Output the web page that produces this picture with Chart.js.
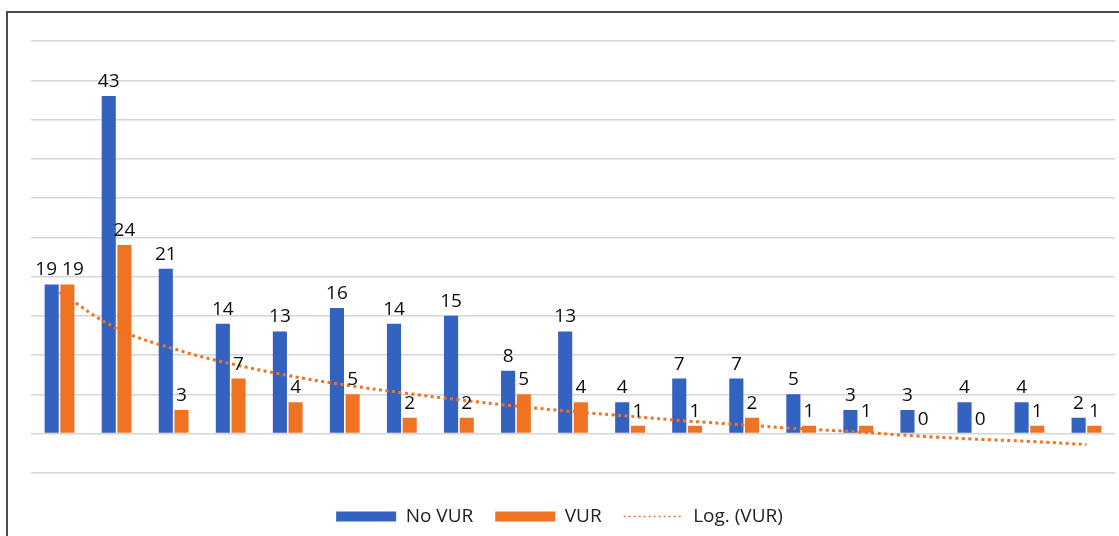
<!DOCTYPE html>
<html>
<head>
<meta charset="utf-8">
<script src="https://cdn.jsdelivr.net/npm/chart.js@4.4.1/dist/chart.umd.min.js"></script>
<style>
  html, body { margin: 0; padding: 0; background: #fff; }
  #wrap { position: relative; width: 1119px; height: 536px; overflow: hidden; }
  #frame {
    position: absolute; left: 6px; top: 11px;
    width: 1200px; height: 600px;
    border: 2px solid #4a4a4a; box-sizing: border-box;
  }
  #chart { position: absolute; left: 0; top: 0; }
</style>
</head>
<body>
<div id="wrap">
  <div id="frame"></div>
  <canvas id="chart" width="1119" height="536"></canvas>
</div>
<script>

// categories have no visible names in the picture
const categories = ["1","2","3","4","5","6","7","8","9","10","11","12","13","14","15","16","17","18","19"];

const noVur = [19, 43, 21, 14, 13, 16, 14, 15, 8, 13, 4, 7, 7, 5, 3, 3, 4, 4, 2];

const vur = [19, 24, 3, 7, 4, 5, 2, 2, 5, 4, 1, 1, 2, 1, 1, 0, 0, 1, 1];

// log trend line
const logVur = [18.0, 13.4, 10.8, 8.9, 7.4, 6.2, 5.2, 4.3, 3.5, 2.8, 2.2, 1.6, 1.1, 0.6, 0.2, -0.3, -0.7, -1.0, -1.4];

const blue = "#3462c0";
const orange = "#ef7322";


/* ===========================
   VALUE LABELS
=========================== */

const barLabels = {
    id: "barLabels",
    afterDatasetsDraw(chart){
        const c = chart.ctx;
        c.save();
        c.font = "19px 'Open Sans'";
        c.fillStyle = "#0d0d0d";
        c.textAlign = "center";
        c.textBaseline = "alphabetic";

        const a = chart.getDatasetMeta(0).data;
        const b = chart.getDatasetMeta(1).data;

        categories.forEach((cat, j) => {
            const t1 = String(noVur[j]);
            const t2 = String(vur[j]);
            let x1 = a[j].x;
            let x2 = b[j].x;
            const y1 = a[j].y - 9;
            const y2 = b[j].y - 9;
            const w1 = c.measureText(t1).width;
            const w2 = c.measureText(t2).width;

            // push side by side labels apart when they would touch
            if(Math.abs(y1 - y2) < 18){
                const gap = (x2 - w2 / 2) - (x1 + w1 / 2);
                if(gap < 5){
                    const d = (5 - gap) / 2;
                    x1 -= d;
                    x2 += d;
                }
            }

            c.fillText(t1, x1, y1);
            c.fillText(t2, x2, y2);
        });
        c.restore();
    }
};


/* ===========================
   CHART
=========================== */

const chart = new Chart(document.getElementById("chart"), {

    type: "bar",

    data: {
        labels: categories,
        datasets: [
            {
                label: "No VUR",
                data: noVur,
                backgroundColor: blue,
                categoryPercentage: 0.55,
                barPercentage: 0.9,
                order: 1
            },
            {
                label: "VUR",
                data: vur,
                backgroundColor: orange,
                categoryPercentage: 0.55,
                barPercentage: 0.9,
                order: 1
            },
            {
                type: "line",
                label: "Log. (VUR)",
                data: logVur,
                borderColor: orange,
                borderWidth: 3,
                borderDash: [3, 3.5],
                pointRadius: 0,
                tension: 0.4,
                fill: false,
                order: 0
            }
        ]
    },

    options: {
        responsive: false,
        animation: false,
        layout: {
            padding: { left: 4, right: 4, top: 41, bottom: 0 }
        },
        scales: {
            x: {
                display: false,
                offset: true
            },
            y: {
                min: -5,
                max: 50,
                ticks: { display: false, stepSize: 5 },
                grid: { color: "#d6d6d6", lineWidth: 1.5, drawTicks: false },
                border: { display: false },
                afterFit(scale){
                    scale.width = 27;
                }
            }
        },
        plugins: {
            tooltip: { enabled: false },
            legend: {
                position: "bottom",
                title: {
                    display: true,
                    text: "",
                    font: { size: 1 },
                    padding: { top: 11, bottom: 0 }
                },
                labels: {
                    usePointStyle: true,
                    pointStyleWidth: 60,
                    boxHeight: 10,
                    padding: 22,
                    color: "#222",
                    font: { family: "'Open Sans'", size: 19 },
                    generateLabels(chart){
                        return chart.data.datasets.map((ds, i) => ({
                            text: ds.label,
                            datasetIndex: i,
                            fillStyle: ds.type === "line" ? "rgba(0,0,0,0)" : ds.backgroundColor,
                            strokeStyle: ds.type === "line" ? orange : ds.backgroundColor,
                            lineWidth: ds.type === "line" ? 1.5 : 0,
                            lineDash: ds.type === "line" ? [2, 3] : [],
                            pointStyle: ds.type === "line" ? "line" : "rect",
                            fontColor: "#222",
                            hidden: false
                        }));
                    }
                }
            }
        }
    },

    plugins: [barLabels]
});

</script>
</body>
</html>
